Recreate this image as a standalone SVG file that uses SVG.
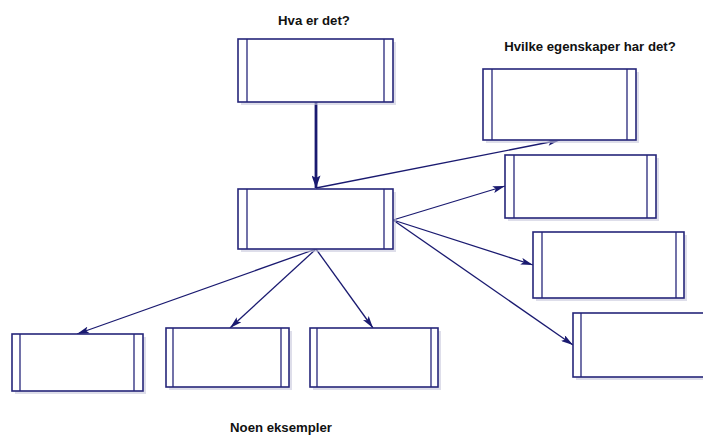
<svg xmlns="http://www.w3.org/2000/svg" width="703" height="437" viewBox="0 0 703 437">
<defs>
<style>
.box{fill:#fff;stroke:#26267a;stroke-width:1.6}
.div{stroke:#26267a;stroke-width:1.3}
.sh{fill:#c8c8dc;opacity:0.6}
.lbl{font-family:"Liberation Sans",Arial,sans-serif;font-weight:bold;font-size:13.2px;fill:#111}
.con{stroke:#1a1a70;stroke-width:1.3;fill:none;marker-end:url(#ah)}
</style>
<marker id="ah" viewBox="0 0 14 8" refX="14" refY="4" markerWidth="14" markerHeight="7" markerUnits="userSpaceOnUse" orient="auto">
<path d="M0,0 L14,4 L0,8 L3,4 Z" fill="#1a1a70"/>
</marker>
<marker id="ah2" viewBox="0 0 14 10" refX="14" refY="5" markerWidth="14" markerHeight="9" markerUnits="userSpaceOnUse" orient="auto">
<path d="M0,0 L14,5 L0,10 L3,5 Z" fill="#1a1a70"/>
</marker>
</defs>
<rect width="703" height="437" fill="#fff"/>
<text class="lbl" x="314" y="25" text-anchor="middle">Hva er det?</text>
<text class="lbl" x="590" y="51" text-anchor="middle">Hvilke egenskaper har det?</text>
<text class="lbl" x="281" y="432" text-anchor="middle">Noen eksempler</text>
<g id="connectors">
<line x1="316" y1="102" x2="316" y2="188" stroke="#1a1a70" stroke-width="2.8" marker-end="url(#ah2)"/>
<line class="con" x1="316" y1="188" x2="560" y2="140"/>
<line class="con" x1="393" y1="220" x2="505" y2="186"/>
<line class="con" x1="393" y1="220" x2="533" y2="265"/>
<line class="con" x1="393" y1="220" x2="573" y2="345"/>
<line class="con" x1="316" y1="249" x2="77" y2="334"/>
<line class="con" x1="316" y1="249" x2="230" y2="328"/>
<line class="con" x1="316" y1="249" x2="373" y2="328"/>
</g>
<g id="n-top"><rect class="sh" x="241" y="42" width="155" height="63"/><rect class="box" x="238" y="39" width="155" height="63"/><line class="div" x1="247" y1="39" x2="247" y2="102"/><line class="div" x1="384" y1="39" x2="384" y2="102"/></g>
<g id="n-mid"><rect class="sh" x="241" y="192" width="155" height="60"/><rect class="box" x="238" y="189" width="155" height="60"/><line class="div" x1="247" y1="189" x2="247" y2="249"/><line class="div" x1="384" y1="189" x2="384" y2="249"/></g>
<g id="n-r1"><rect class="sh" x="486" y="72" width="153" height="71"/><rect class="box" x="483" y="69" width="153" height="71"/><line class="div" x1="492" y1="69" x2="492" y2="140"/><line class="div" x1="627" y1="69" x2="627" y2="140"/></g>
<g id="n-r2"><rect class="sh" x="508" y="158" width="151" height="63"/><rect class="box" x="505" y="155" width="151" height="63"/><line class="div" x1="514" y1="155" x2="514" y2="218"/><line class="div" x1="647" y1="155" x2="647" y2="218"/></g>
<g id="n-r3"><rect class="sh" x="536" y="235" width="151" height="66"/><rect class="box" x="533" y="232" width="151" height="66"/><line class="div" x1="542" y1="232" x2="542" y2="298"/><line class="div" x1="676" y1="232" x2="676" y2="298"/></g>
<g id="n-r4"><rect class="sh" x="576" y="316" width="140" height="64"/><rect class="box" x="573" y="313" width="140" height="64"/><line class="div" x1="581" y1="313" x2="581" y2="377"/></g>
<g id="n-b1"><rect class="sh" x="15" y="337" width="131" height="57"/><rect class="box" x="12" y="334" width="131" height="57"/><line class="div" x1="20" y1="334" x2="20" y2="391"/><line class="div" x1="134" y1="334" x2="134" y2="391"/></g>
<g id="n-b2"><rect class="sh" x="169" y="331" width="123" height="59"/><rect class="box" x="166" y="328" width="123" height="59"/><line class="div" x1="173" y1="328" x2="173" y2="387"/><line class="div" x1="281" y1="328" x2="281" y2="387"/></g>
<g id="n-b3"><rect class="sh" x="313" y="331" width="128" height="59"/><rect class="box" x="310" y="328" width="128" height="59"/><line class="div" x1="317" y1="328" x2="317" y2="387"/><line class="div" x1="431" y1="328" x2="431" y2="387"/></g>
</svg>
